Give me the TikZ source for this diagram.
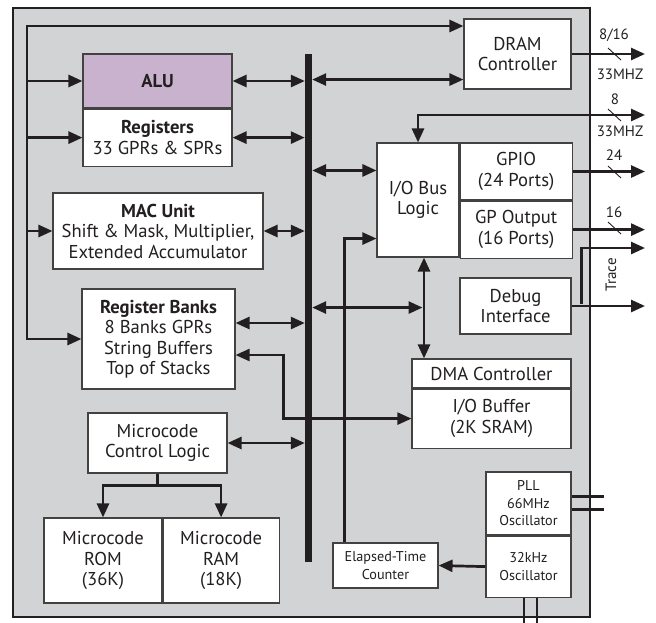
\documentclass[tikz,border=0pt]{standalone}
\usepackage{fontspec}
\setmainfont{PT Sans}
\usepackage{xcolor}
\usepackage{tikz}
\usetikzlibrary{arrows.meta,positioning,calc}
\definecolor{CGray}{HTML}{D1D3D4}
\definecolor{CPurple}{HTML}{C8B2CE}
\definecolor{CInk}{HTML}{231F20}

\begin{document}
\begin{tikzpicture}[x=1pt,y=-1pt,
  blk/.style={draw=CInk!85,line width=1.1pt,fill=white,align=center,
    inner sep=0pt,text=CInk,font=\fontsize{18.6}{20.5}\selectfont},
  sm/.style={blk,font=\fontsize{14.2}{17.5}\selectfont},
  a/.style={-{Triangle[length=14pt,width=12pt]},line width=2.7pt,color=CInk},
  aa/.style={a,{Triangle[length=14pt,width=12pt]}-{Triangle[length=14pt,width=12pt]}},
  ln/.style={line width=2.7pt,color=CInk},
  tick/.style={line width=0.9pt,color=CInk},
  lbl/.style={inner sep=0pt,text=CInk,font=\fontsize{15}{17}\selectfont}
]
  \useasboundingbox (0,0) rectangle (656,622);
  \draw[fill=CGray,draw=CInk,line width=2.5pt] (13,8) rectangle (590,617);

  % left column
  \node[blk,fill=CPurple,minimum width=149pt,minimum height=54pt] (alu)
    at (157.5,81) {\textbf{ALU}};
  \node[blk,minimum width=149pt,minimum height=57pt,below=0pt of alu] (regs)
    {\textbf{Registers}\\33 GPRs \& SPRs};
  \node[blk,minimum width=210pt,minimum height=76pt] (mac) at (158,231)
    {\textbf{MAC Unit}\\Shift \& Mask, Multiplier,\\Extended Accumulator};
  \node[blk,minimum width=153pt,minimum height=100pt] (rbank) at (158.5,339)
    {\textbf{Register Banks}\\8 Banks GPRs\\String Buffers\\Top of Stacks};
  \node[blk,minimum width=139pt,minimum height=60pt] (mcl) at (157.5,443)
    {Microcode\\Control Logic};
  \node[blk,minimum width=118pt,minimum height=85pt] (mrom) at (103,560.5)
    {Microcode\\ROM\\(36K)};
  \node[blk,minimum width=116pt,minimum height=85pt,right=0pt of mrom] (mram)
    {Microcode\\RAM\\(18K)};

  % internal bus
  \node[fill=CInk,minimum width=7pt,minimum height=508pt,inner sep=0pt] (bus)
    at (308.5,308) {};

  % right column
  \node[blk,minimum width=107pt,minimum height=70pt] (dram) at (517.5,54)
    {DRAM\\Controller};
  \node[blk,minimum width=82pt,minimum height=114pt] (iobl) at (418,200)
    {I/O Bus\\Logic};
  \node[blk,minimum width=112pt,minimum height=57pt,anchor=north west] (gpio)
    at (iobl.north east) {GPIO\\(24 Ports)};
  \node[blk,minimum width=112pt,minimum height=57pt,below=0pt of gpio] (gpout)
    {GP Output\\(16 Ports)};
  \node[blk,minimum width=111pt,minimum height=56pt] (debug) at (515.5,306)
    {Debug\\Interface};
  \node[blk,minimum width=159pt,minimum height=29pt] (dma) at (491.5,373.5)
    {DMA Controller};
  \node[blk,minimum width=159pt,minimum height=59pt,below=0pt of dma] (iobuf)
    {I/O Buffer\\(2K SRAM)};
  \node[sm,minimum width=85pt,minimum height=63pt] (pll) at (528.5,503.5)
    {PLL\\66MHz\\Oscillator};
  \node[sm,minimum width=85pt,minimum height=61pt,below=0pt of pll] (osc)
    {32kHz\\Oscillator};
  \node[sm,minimum width=105pt,minimum height=45pt] (etc) at (385.5,565.5)
    {Elapsed-Time\\Counter};

  % control feed on the left
  \coordinate (ctl) at (27,26);
  \draw[aa] (dram.west |- ctl) -- (ctl) |- (rbank.west);
  \foreach \n in {alu,regs,mac}
    \draw[a] (ctl |- \n.west) -- (\n.west);

  % bus links
  \foreach \n in {alu,regs,mac,mcl}
    \draw[aa] (\n.east) -- (\n.east -| bus.west);
  \coordinate (rbin) at ($(rbank.east)+(0,-16)$);
  \draw[aa] (rbin) -- (rbin -| bus.west);
  \coordinate (dramin) at ($(dram.south west)+(0,-10)$);
  \draw[aa] (bus.east |- dramin) -- (dramin);
  \coordinate (iobin) at ($(iobl.north west)+(0,28)$);
  \draw[aa] (bus.east |- iobin) -- (iobin);
  \coordinate (ioj) at ($(iobl.south)+(6,0)$);
  \draw[aa] (ioj) -- (ioj |- dma.north);
  \coordinate (dmaj) at ($(ioj)+(-1.5,50)$);
  \draw[aa] (bus.east |- dmaj) -- (dmaj);
  \draw[aa,line width=2.3pt] ($(rbank.east)+(0,16)$) -- ++(48,0) |- (iobuf.west);

  % microcode store
  \draw[ln] (mcl.south) -- ++(0,12) coordinate (mfork);
  \draw[aa] (mrom.north) |- (mfork) -| (mram.north);

  % timers
  \coordinate (etin) at ($(iobl.south west)+(0,-19)$);
  \draw[a,line width=2.3pt] ($(etc.north west)+(12,0)$) |- (etin);
  \draw[a] (osc.west) -- (etc.east);
  \draw[ln] ($(pll.east)+(0,-7)$) -- ++(32,0);
  \draw[ln] ($(pll.east)+(0,6)$) -- ++(32,0);
  \draw[ln] ($(osc.south)+(-4.5,0)$) -- ++(0,26);
  \draw[ln] ($(osc.south)+(8.5,0)$) -- ++(0,26);

  % external pins
  \coordinate (edge) at (645,0);
  \coordinate (bus8) at (645,115);
  \coordinate (trc) at (645,248);
  \draw[a] (dram.east) -- (edge |- dram.east);
  \draw[aa] (iobl.north) |- (bus8);
  \draw[a] (gpio.east) -- (edge |- gpio.east);
  \draw[a] (gpout.east) -- (edge |- gpout.east);
  \draw[a] (debug.east) -- (edge |- debug.east);
  \draw[a] ($(debug.east)+(10,-2)$) |- (trc);
  \node[lbl,rotate=90] (trace) at (611,275) {Trace};

  \draw[tick] (608,48) -- (621,60);
  \draw[tick] (608,109) -- (621,121);
  \draw[tick] (608,166) -- (621,178);
  \draw[tick] (608,222) -- (621,234);
  \node[lbl] (w1) at (614,35) {8/16};
  \node[lbl] (f1) at (620,74) {33MHZ};
  \node[lbl] (w2) at (615,99) {8};
  \node[lbl] (f2) at (620,131) {33MHZ};
  \node[lbl] (w3) at (614,155) {24};
  \node[lbl] (w4) at (614,212) {16};
\end{tikzpicture}
\end{document}
